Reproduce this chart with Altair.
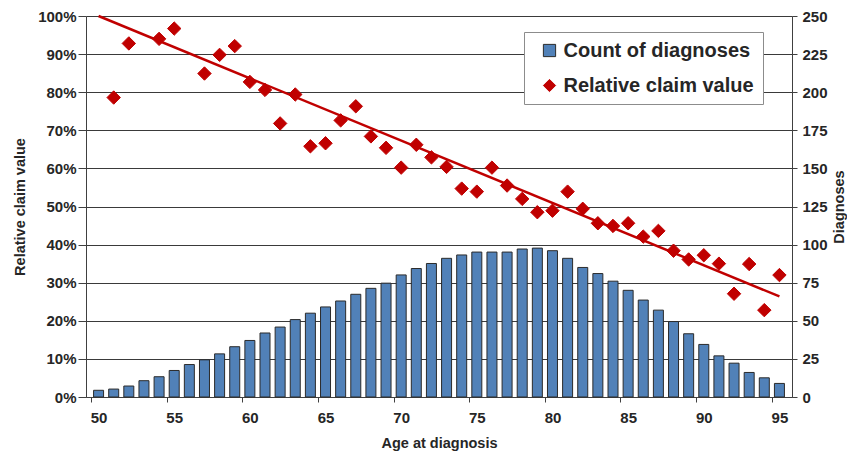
import altair as alt
import pandas as pd

ages = list(range(50, 96))
counts = [4.4, 5.2, 7.2, 10.7, 13.3, 17.4, 21.3, 24.4, 28.3, 33.0,
          37.1, 42.0, 45.9, 50.8, 55.0, 59.1, 63.0, 67.4, 71.3, 74.7,
          80.1, 84.3, 87.6, 91.0, 93.2, 95.1, 95.1, 95.1, 97.1, 97.7,
          96.0, 91.0, 85.0, 81.0, 76.0, 70.0, 63.6, 57.0, 49.5, 41.5,
          34.5, 27.0, 22.2, 16.1, 12.6, 8.9]

claim_ages = [51, 52, 54, 55, 57, 58, 59, 60, 61, 62, 63, 64, 65,
              66, 67, 68, 69, 70, 71, 72, 73, 74, 75, 76, 77, 78, 79, 80,
              81, 82, 83, 84, 85, 86, 87, 88, 89, 90, 91, 92, 93, 94, 95]
claim_values = [0.786, 0.928, 0.940, 0.967, 0.849, 0.898, 0.921, 0.827, 0.806, 0.718,
                0.794, 0.658, 0.666, 0.726, 0.763, 0.684, 0.654, 0.602, 0.662, 0.629,
                0.604, 0.547, 0.539, 0.602, 0.555, 0.520, 0.485, 0.489, 0.539, 0.494,
                0.456, 0.449, 0.456, 0.421, 0.436, 0.384, 0.361, 0.372, 0.350, 0.271,
                0.349, 0.228, 0.320]

trend_ages = [50, 95]
trend_values = [1.00, 0.264]

series_names = ["Count of diagnoses", "Relative claim value"]
pct_ticks = [0, 0.1, 0.2, 0.3, 0.4, 0.5, 0.6, 0.7, 0.8, 0.9, 1.0]
count_ticks = list(range(0, 251, 25))
age_ticks = list(range(50, 96, 5))

BLUE = "#5181B8"
RED = "#C00000"
TXT = "#262626"
FONT = "Liberation Sans"

bars_df = pd.DataFrame({"age": ages, "count": counts, "series": series_names[0]})
pts_df = pd.DataFrame({"age": claim_ages, "value": claim_values, "series": series_names[1]})
trend_df = pd.DataFrame({"age": trend_ages, "value": trend_values})

color_scale = alt.Scale(domain=series_names, range=[BLUE, RED])
stroke_scale = alt.Scale(domain=series_names, range=["#2b2b2b", RED])
shape_scale = alt.Scale(domain=series_names, range=["square", "diamond"])

legend = alt.Legend(
    title=None, orient="none", legendX=438, legendY=16,
    fillColor="white", strokeColor="#8c8c8c", padding=8.5,
    labelFont=FONT, labelFontSize=20, labelFontWeight="bold", labelColor=TXT,
    symbolSize=150, symbolStrokeWidth=1, rowPadding=15, labelOffset=4,
    symbolOffset=7, labelLimit=400,
)

xscale = alt.Scale(domain=[49.5, 95.5], nice=False, zero=False)
xaxis = alt.Axis(
    values=age_ticks, title="Age at diagnosis", grid=False,
    tickOffset=-7.67, labelOffset=7.67, tickSize=5, tickColor="#404040",
    domainColor="#404040", labelFont=FONT, labelFontSize=15, labelFontWeight="bold",
    labelColor=TXT, labelPadding=8, titleFont=FONT, titleFontSize=14.5,
    titleFontWeight="bold", titleColor=TXT, titlePadding=11,
)

left_axis = alt.Axis(orient="left", values=pct_ticks, format=".0%",
                     title="Relative claim value", grid=True, gridColor="#3a3a3a",
                     gridWidth=1, tickSize=8, tickColor="#404040", labelOverlap=False,
                     domainColor="#404040", labelFont=FONT, labelFontSize=15,
                     labelFontWeight="bold", labelColor=TXT, labelPadding=2,
                     titleFont=FONT, titleFontSize=14.5, titleFontWeight="bold",
                     titleColor=TXT, titlePadding=10)
pct_scale = alt.Scale(domain=[0, 1], nice=False)

bars = alt.Chart(bars_df).mark_bar(width=10, strokeWidth=1).encode(
    x=alt.X("age:Q", scale=xscale, axis=xaxis),
    y=alt.Y("count:Q", scale=alt.Scale(domain=[0, 250], nice=False),
            axis=alt.Axis(orient="right", values=count_ticks, title="Diagnoses",
                          grid=False, tickSize=5, tickColor="#404040", labelOverlap=False,
                          domainColor="#404040", labelFont=FONT, labelFontSize=15,
                          labelFontWeight="bold", labelColor=TXT, labelPadding=5,
                          titleFont=FONT, titleFontSize=14.5, titleFontWeight="bold",
                          titleColor=TXT, titleAngle=270, titleBaseline="top",
                          titlePadding=5)),
    color=alt.Color("series:N", scale=color_scale, legend=legend),
    stroke=alt.Stroke("series:N", scale=stroke_scale, legend=legend),
)

pts = alt.Chart(pts_df).mark_point(shape="diamond", filled=True, size=180, opacity=1, strokeWidth=1).encode(
    x=alt.X("age:Q", scale=xscale, axis=xaxis),
    y=alt.Y("value:Q", scale=pct_scale, axis=left_axis),
    color=alt.Color("series:N", scale=color_scale, legend=legend),
    stroke=alt.Stroke("series:N", scale=stroke_scale, legend=legend),
    shape=alt.Shape("series:N", scale=shape_scale, legend=legend),
)

trend = alt.Chart(trend_df).mark_line(color=RED, strokeWidth=2.5).encode(
    x=alt.X("age:Q", scale=xscale, axis=xaxis),
    y=alt.Y("value:Q", scale=pct_scale, axis=left_axis),
)

right = alt.layer(trend, pts)
chart = alt.layer(bars, right).resolve_scale(y="independent").properties(
    width=706, height=381,
    autosize=alt.AutoSizeParams(type="none"),
    padding={"left": 78, "top": 8, "right": 55, "bottom": 54},
).configure_view(stroke=None).configure(background="white")

chart.save("out.html", embed_options={"renderer": "svg", "actions": False})
